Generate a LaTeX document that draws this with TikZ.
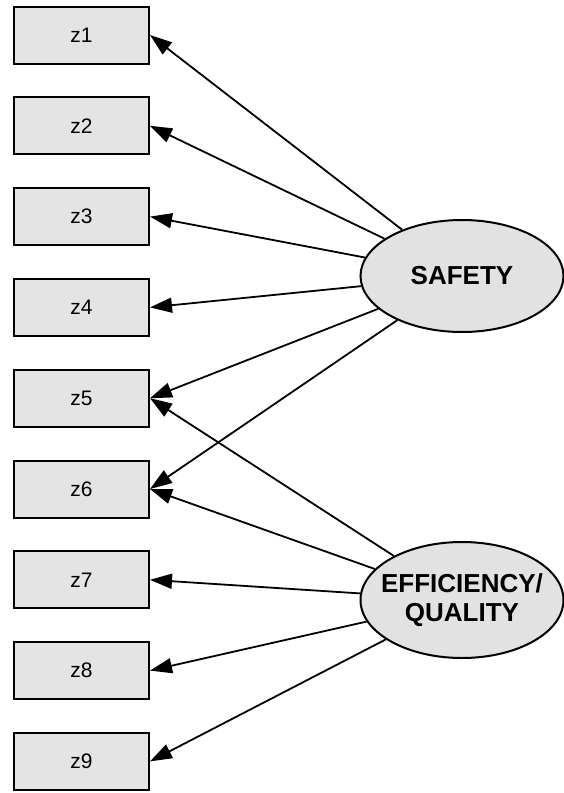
\documentclass[tikz,border=0pt]{standalone}
\usepackage{fontspec}
\setmainfont{Liberation Sans}
\usetikzlibrary{arrows.meta,shapes.geometric}
\definecolor{boxfill}{RGB}{228,228,228}
\definecolor{ellfill}{RGB}{226,226,226}
\begin{document}
\begin{tikzpicture}[x=1pt,y=-1pt,
  obsbox/.style={draw=black,line width=2pt,fill=boxfill,minimum width=135pt,minimum height=57pt,inner sep=0pt,font=\fontsize{21}{23}\selectfont},
  latent/.style={ellipse,draw=black,line width=2pt,fill=ellfill,minimum width=203pt,minimum height=112pt,inner sep=0pt},
  lattext/.style={font=\fontsize{26}{29}\selectfont\bfseries,align=center},
  loadarrow/.style={line width=1.8pt,-{Triangle[length=22pt,width=15pt]}}]
\useasboundingbox (0,0) rectangle (564,793);
\foreach \i in {1,...,9}{
  \node[obsbox] (z\i) at (81.5,{35+90.8*(\i-1)}) {z\i};
}
\node[latent,label={[lattext]center:SAFETY}] (saf) at (462,276) {};
\node[latent,minimum height=116pt,label={[lattext]center:EFFICIENCY/\\QUALITY}] (eff) at (462,600) {};
\foreach \i in {1,...,6}{
  \draw[loadarrow] (saf) -- (z\i.east);
}
\foreach \i in {5,...,9}{
  \draw[loadarrow] (eff) -- (z\i.east);
}
\end{tikzpicture}
\end{document}
